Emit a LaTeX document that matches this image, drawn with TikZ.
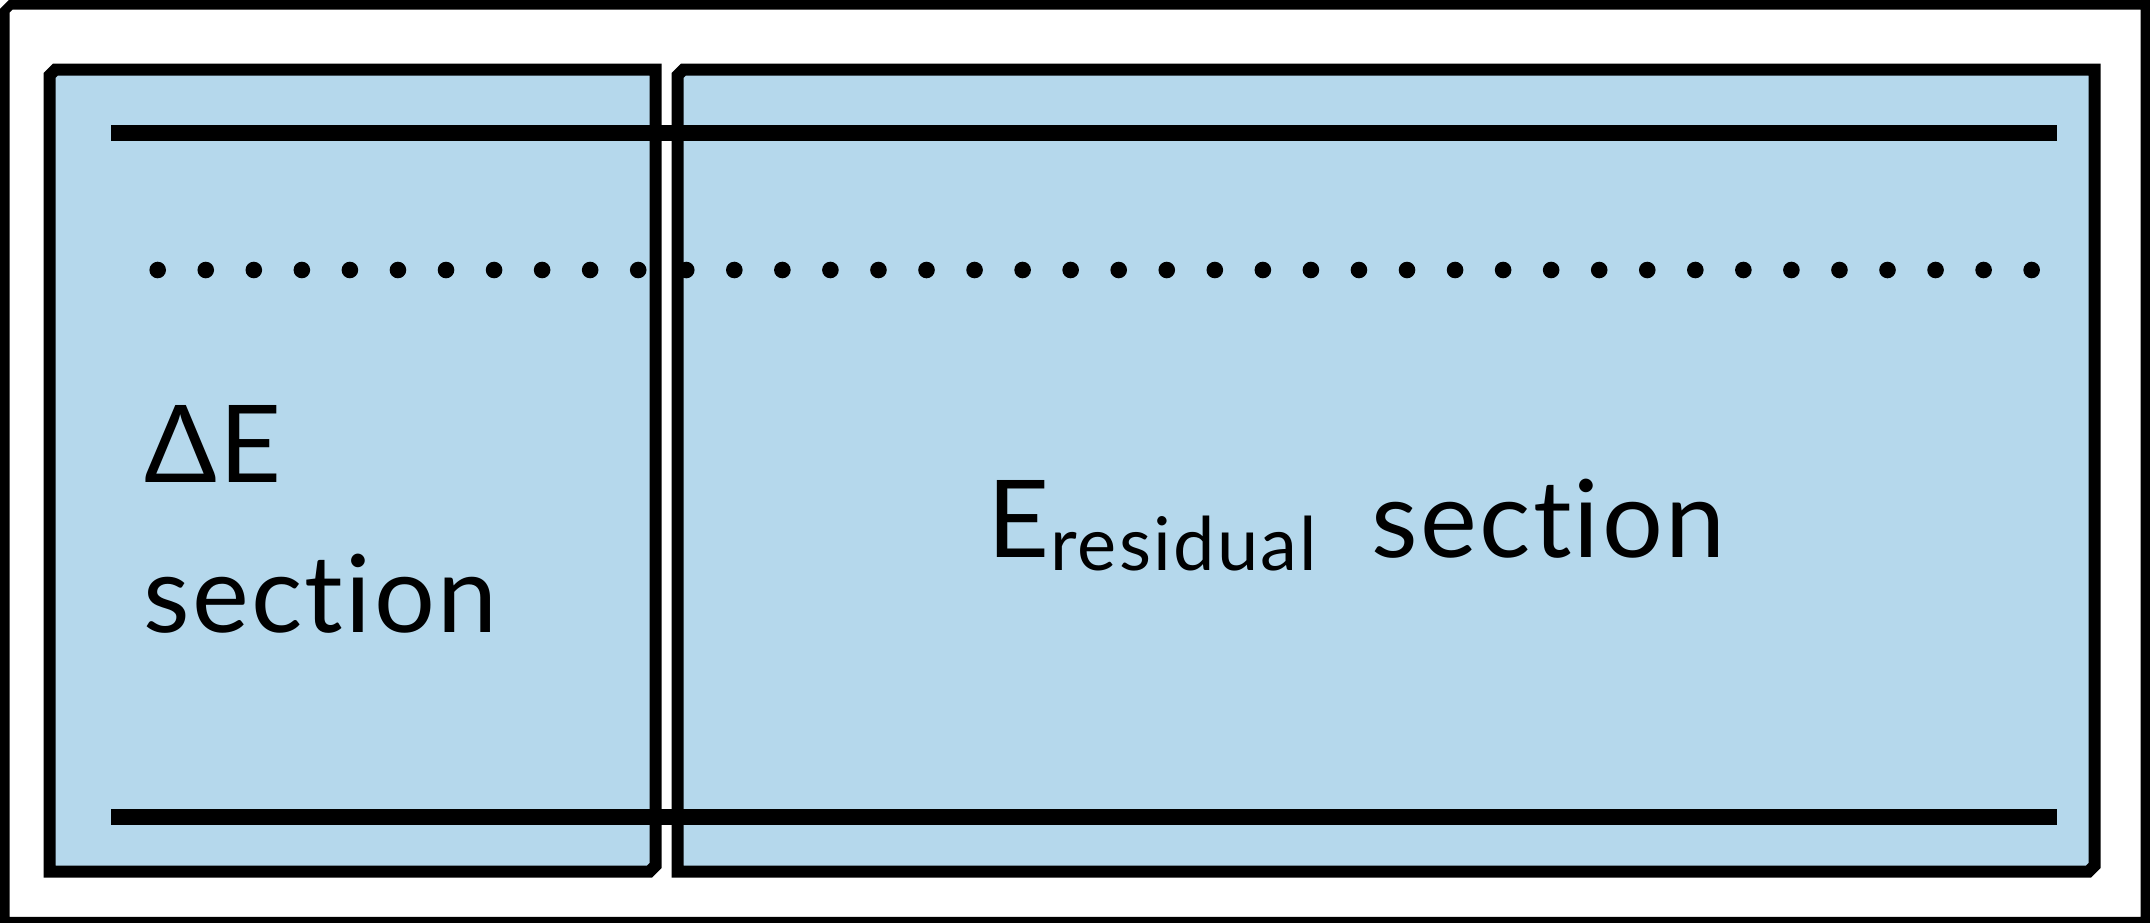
\documentclass[tikz,border=0pt]{standalone}
\usepackage{fontspec}
\setmainfont[Ligatures={NoCommon}]{Lato}
\newfontfamily\lblfont[Ligatures={NoCommon},LetterSpace=2.2]{Lato}
\newfontfamily\subfont[Ligatures={NoCommon},LetterSpace=3.0]{Lato}
\definecolor{boxblue}{RGB}{181,216,236}
\begin{document}
\begin{tikzpicture}[x=1pt,y=-1pt,
  boxline/.style={line width=12pt, line join=miter},
  frameline/.style={line width=9.5pt, line join=miter},
  rulebar/.style={line width=16pt},
  lbl/.style={inner sep=0pt, anchor=base west, font=\lblfont\fontsize{107.5}{120}\selectfont}]
\useasboundingbox (0,0) rectangle (2150,922);
% fills
\fill[boxblue] (49.5,69.5) rectangle (655.5,871.5);
\fill[boxblue] (677.5,69.5) rectangle (2094.5,871.5);
% dotted row
\foreach \i in {0,...,39} \fill (157.7+48.05*\i,270) circle (8.3);
% borders
\draw[frameline] (4.75,10.75) -- (10.75,4.75) -- (2145.25,4.75) -- (2145.25,921.5) -- (4.75,921.5) -- cycle;
\draw[boxline] (49.5,75.5) -- (55.5,69.5) -- (655.5,69.5) -- (655.5,865.5) -- (649.5,871.5) -- (49.5,871.5) -- cycle;
\draw[boxline] (677.5,75.5) -- (683.5,69.5) -- (2094.5,69.5) -- (2094.5,865.5) -- (2088.5,871.5) -- (677.5,871.5) -- cycle;
% horizontal bars
\draw[rulebar] (111,133) -- (2057,133);
\draw[rulebar] (111,817) -- (2057,817);
% labels
\node[lbl] (dE) at (144,482) {ΔE};
\node[lbl] (sec1) at (143,632) {section};
\node[lbl] (Eres) at (987,557) {E\hspace{1pt}\raisebox{-13pt}{\subfont\fontsize{74}{80}\selectfont residual}};
\node[lbl] (sec2) at (1371,557) {section};
\end{tikzpicture}
\end{document}
